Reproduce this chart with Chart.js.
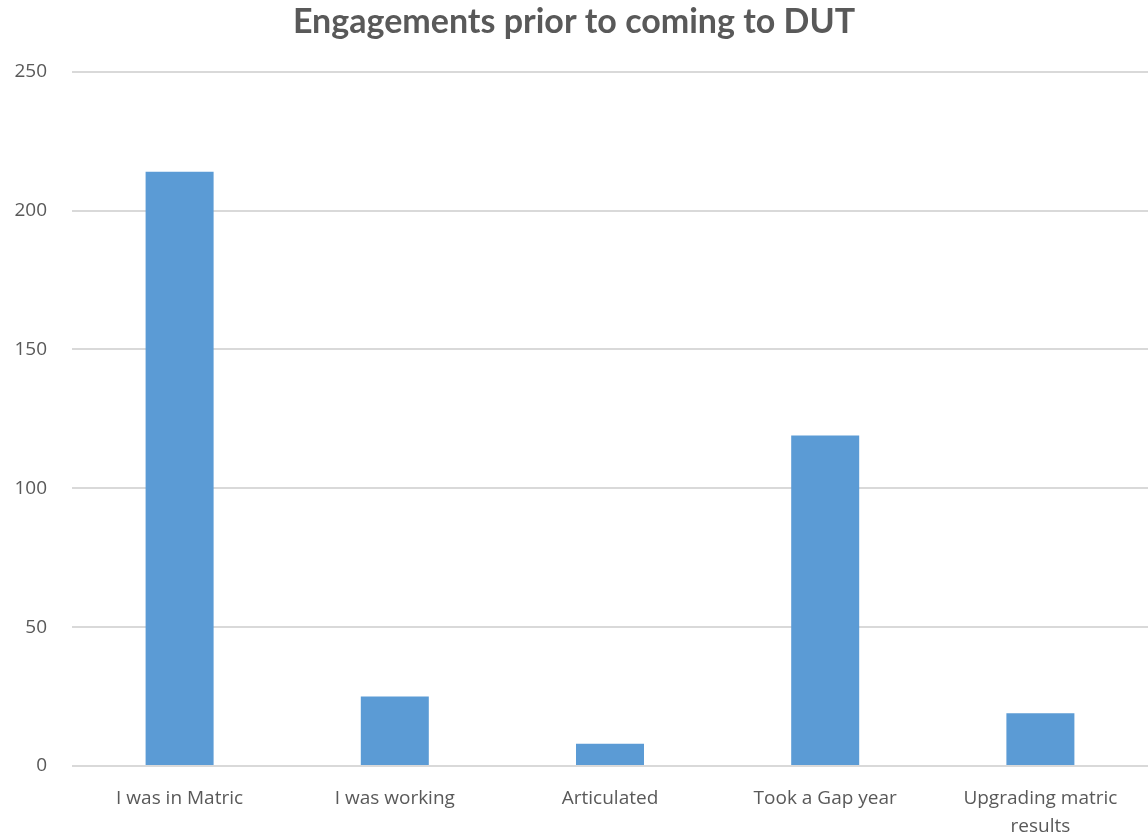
<!DOCTYPE html>
<html>
<head>
<meta charset="utf-8">
<script src="https://cdn.jsdelivr.net/npm/chart.js@4"></script>
<style>
html,body{margin:0;padding:0;background:#fff;}
#wrap{width:1148px;height:840px;position:relative;}
</style>
</head>
<body>
<div id="wrap"><canvas id="c" width="1148" height="840"></canvas></div>
<script>
const categories = ["I was in Matric", "I was working", "Articulated", "Took a Gap year", ["Upgrading matric", "results"]];
const values = [214, 25, 8, 119, 19];
const yTicks = [0, 50, 100, 150, 200, 250];
const chartTitle = "Engagements prior to coming to DUT";

const textColor = "#595959";
new Chart(document.getElementById("c"), {
  type: "bar",
  data: {
    labels: categories,
    datasets: [{
      data: values,
      backgroundColor: "#5B9BD5",
      borderWidth: 0,
      categoryPercentage: 1,
      barPercentage: 0.316
    }]
  },
  options: {
    responsive: false,
    animation: false,
    devicePixelRatio: 1,
    layout: { padding: { left: 0, right: 0, top: 0, bottom: 0 } },
    plugins: {
      legend: { display: false },
      tooltip: { enabled: false },
      title: {
        display: true,
        text: chartTitle,
        color: textColor,
        font: { family: "Lato", size: 34, weight: "bold", lineHeight: 1.2 },
        padding: { top: 2, bottom: 29 }
      }
    },
    scales: {
      x: {
        grid: { display: false },
        border: { display: false },
        ticks: {
          color: textColor,
          font: { family: "Open Sans", size: 19, lineHeight: 1.45 },
          padding: 11,
          maxRotation: 0,
          autoSkip: false
        },
        afterFit: (axis) => { axis.height = 74; }
      },
      y: {
        min: 0,
        max: 250,
        afterBuildTicks: (axis) => { axis.ticks = yTicks.map(v => ({ value: v })); },
        grid: { color: "#D9D9D9", lineWidth: 2, drawTicks: false },
        border: { display: false },
        ticks: {
          color: textColor,
          font: { family: "Open Sans", size: 19 },
          padding: 25
        },
        afterFit: (axis) => { axis.width = 72; }
      }
    }
  }
});
</script>
</body>
</html>
